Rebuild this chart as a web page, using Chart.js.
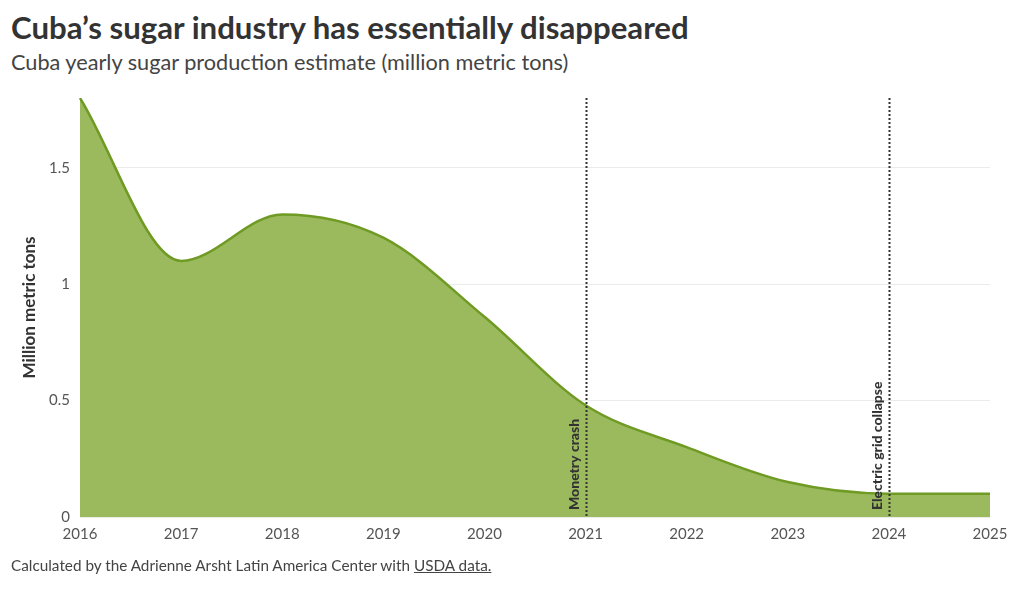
<!DOCTYPE html>
<html>
<head>
<meta charset="utf-8">
<script src="https://cdn.jsdelivr.net/npm/chart.js@4/dist/chart.umd.min.js"></script>
<style>
  body { margin: 0; background: #fff; font-family: Lato, "Open Sans", sans-serif; color: #333; }
  #wrap { position: relative; width: 1020px; height: 612px; }
  h1 { position: absolute; left: 11px; top: 8px; margin: 0; font-size: 31.2px; font-weight: 700; color: #333; white-space: nowrap; }
  h2 { position: absolute; left: 11px; top: 49px; margin: 0; font-size: 21.7px; font-weight: 400; color: #444; white-space: nowrap; }
  #chartBox { position: absolute; left: 0; top: 79px; width: 1020px; height: 478px; }
  .note { position: absolute; left: 11px; top: 556px; font-size: 15.3px; color: #444; }
  .note span { text-decoration: underline; }
</style>
</head>
<body>
<div id="wrap">
  <h1>Cuba’s sugar industry has essentially disappeared</h1>
  <h2>Cuba yearly sugar production estimate (million metric tons)</h2>
  <div id="chartBox"><canvas id="sugarChart"></canvas></div>
  <div class="note">Calculated by the Adrienne Arsht Latin America Center with <span>USDA data.</span></div>
</div>
<script>
// Data
const years = ["2016", "2017", "2018", "2019", "2020", "2021", "2022", "2023", "2024", "2025"];
const production = [1.8, 1.1, 1.3, 1.2, 0.86, 0.48, 0.3, 0.15, 0.1, 0.1];
const yTicks = [0, 0.5, 1, 1.5];
const events = [
    { year: "2021", label: "Monetry crash" },
    { year: "2024", label: "Electric grid collapse" }
];

// Dotted event lines with rotated labels
const eventLines = {
    id: "eventLines",
    afterDatasetsDraw(chart) {
        const ctx = chart.ctx;
        const area = chart.chartArea;
        const x = chart.scales.x;
        ctx.save();
        events.forEach(ev => {
            const px = Math.round(x.getPixelForValue(years.indexOf(ev.year))) + 0.5;
            ctx.strokeStyle = "#333";
            ctx.lineWidth = 2;
            ctx.setLineDash([2, 2]);
            ctx.beginPath();
            ctx.moveTo(px, area.top);
            ctx.lineTo(px, area.bottom);
            ctx.stroke();

            ctx.setLineDash([]);
            ctx.translate(px - 5, area.bottom - 7);
            ctx.rotate(-Math.PI / 2);
            ctx.fillStyle = "#333";
            ctx.font = "900 14px Lato, sans-serif";
            ctx.textAlign = "left";
            ctx.textBaseline = "bottom";
            ctx.fillText(ev.label, 0, 0);
            ctx.setTransform(1, 0, 0, 1, 0, 0);
        });
        ctx.restore();
    }
};

new Chart(document.getElementById("sugarChart"), {
    type: "line",
    data: {
        labels: years,
        datasets: [{
            data: production,
            borderColor: "#6f9a23",
            backgroundColor: "#9bba5e",
            borderWidth: 2.5,
            fill: "origin",
            cubicInterpolationMode: "monotone",
            pointRadius: 0
        }]
    },
    options: {
        responsive: true,
        maintainAspectRatio: false,
        animation: false,
        layout: { padding: { top: 6, right: 30, left: 0, bottom: 0 } },
        plugins: {
            legend: { display: false },
            tooltip: { enabled: false }
        },
        scales: {
            x: {
                offset: false,
                grid: { display: false, drawTicks: false },
                border: { display: false },
                ticks: {
                    color: "#555",
                    font: { family: "Lato", size: 15 },
                    padding: 8,
                    maxRotation: 0,
                    autoSkip: false
                },
                afterFit(scale) { scale.height = 40; }
            },
            y: {
                min: 0,
                max: 1.8,
                afterBuildTicks(scale) {
                    scale.ticks = yTicks.map(v => ({ value: v }));
                },
                grid: { color: "#ebebeb", drawTicks: false },
                border: { display: false },
                ticks: {
                    color: "#555",
                    font: { family: "Lato", size: 15 },
                    padding: 10,
                    callback: v => String(v)
                },
                title: {
                    display: true,
                    text: "Million metric tons",
                    color: "#333",
                    font: { family: "Lato", size: 17, weight: "bold" },
                    padding: { top: 19, bottom: 0 }
                },
                afterFit(scale) { scale.width = 80; }
            }
        }
    },
    plugins: [eventLines]
});
</script>
</body>
</html>
